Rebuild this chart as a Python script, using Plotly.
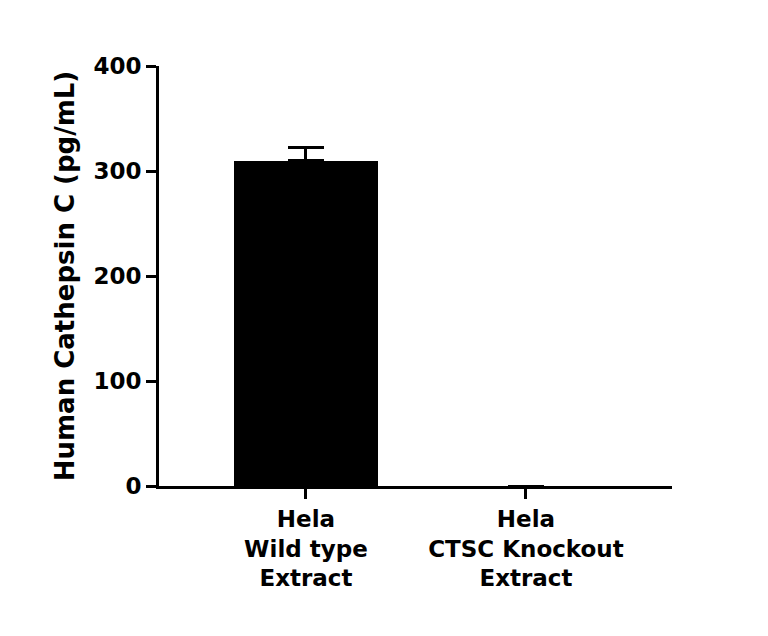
import plotly.graph_objects as go

categories = ["Hela<br>Wild type<br>Extract", "Hela<br>CTSC Knockout<br>Extract"]
values = [310, 0]
errors = [12, float("nan")]
y_ticks = [0, 100, 200, 300, 400]

fig = go.Figure()
fig.add_trace(go.Bar(
    x=[0, 1], y=values, width=0.655,
    marker=dict(color="black", line=dict(width=0)),
    error_y=dict(type="data", array=errors, arrayminus=[0, float("nan")], symmetric=False,
                 color="black", thickness=3, width=18),
))

fig.update_layout(
    width=768, height=636,
    margin=dict(l=151, r=104, t=58, b=158),
    plot_bgcolor="white", paper_bgcolor="white",
    font=dict(family="DejaVu Sans", size=24, color="black"),
    showlegend=False,
    bargap=0,
)
fig.update_xaxes(
    range=[-0.668, 1.664], tickvals=[0, 1], ticktext=["<b>%s</b>" % c.replace("<br>", "</b><br><b>") for c in categories],
    showline=True, linecolor="black", linewidth=3,
    ticks="outside", ticklen=10, tickwidth=3, tickcolor="black",
    showgrid=False, zeroline=False, tickfont=dict(size=23),
)
fig.update_yaxes(
    range=[0, 400], tickvals=y_ticks, ticktext=["<b>%d</b>" % t for t in y_ticks],
    showline=True, linecolor="black", linewidth=3,
    ticks="outside", ticklen=10, tickwidth=3, tickcolor="black",
    showgrid=False, zeroline=False, tickfont=dict(size=23),
    title=dict(text="<b>Human Cathepsin C (pg/mL)</b>", font=dict(size=26), standoff=12),
)

fig.write_html("out.html")
